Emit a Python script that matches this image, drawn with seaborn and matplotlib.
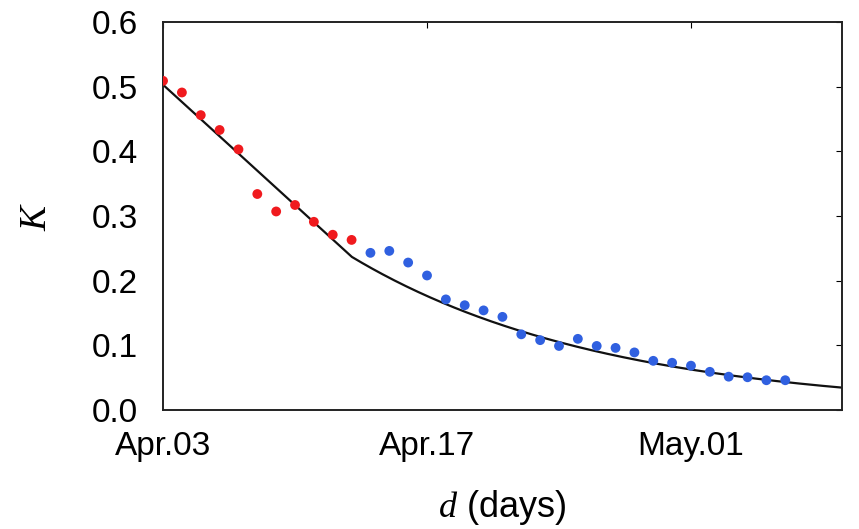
import numpy as np
import pandas as pd
import matplotlib
matplotlib.use("Agg")
import matplotlib.pyplot as plt
import seaborn as sns

# Daily K values, day 0 = Apr.03
days_early = [0, 1, 2, 3, 4, 5, 6, 7, 8, 9, 10]
k_early = [0.509, 0.491, 0.456, 0.433, 0.403, 0.334, 0.307, 0.317, 0.291, 0.271, 0.263]

days_late = [11, 12, 13, 14, 15, 16, 17, 18, 19, 20, 21, 22,
             23, 24, 25, 26, 27, 28, 29, 30, 31, 32, 33]
k_late = [0.243, 0.246, 0.228, 0.208, 0.171, 0.162, 0.154, 0.144, 0.117, 0.108,
          0.099, 0.110, 0.099, 0.096, 0.089, 0.076, 0.073, 0.0685, 0.059,
          0.0515, 0.0506, 0.046, 0.046]

# Model: linear decline up to the breakpoint, exponential decay afterwards
k_start = 0.503
slope = -0.0266
breakpoint_day = 10
decay_rate = 0.074

tick_days = [0, 14, 28]
tick_labels = ["Apr.03", "Apr.17", "May.01"]
k_ticks = [0.0, 0.1, 0.2, 0.3, 0.4, 0.5, 0.6]

sns.set_theme(style="white")
plt.rcParams["font.family"] = ["Liberation Sans", "DejaVu Sans"]
plt.rcParams["mathtext.fontset"] = "custom"
plt.rcParams["mathtext.it"] = "Liberation Serif:italic"
plt.rcParams["mathtext.rm"] = "Liberation Serif"
plt.rcParams["text.color"] = "black"
plt.rcParams["axes.labelcolor"] = "black"
plt.rcParams["xtick.color"] = "black"
plt.rcParams["ytick.color"] = "black"

fig = plt.figure(figsize=(8.59, 5.29), dpi=100)
ax = fig.add_axes([0.1898, 0.225, 0.7902, 0.7334])

df_early = pd.DataFrame({"day": days_early, "K": k_early})
df_late = pd.DataFrame({"day": days_late, "K": k_late})

sns.scatterplot(data=df_early, x="day", y="K", ax=ax, color="#f01a1e",
                s=50, edgecolor="none", zorder=3)
sns.scatterplot(data=df_late, x="day", y="K", ax=ax, color="#3060e0",
                s=50, edgecolor="none", zorder=3)

t = np.linspace(0, 36, 400)
k_break = k_start + slope * breakpoint_day
k_model = np.where(t <= breakpoint_day,
                   k_start + slope * t,
                   k_break * np.exp(-decay_rate * (t - breakpoint_day)))
sns.lineplot(x=t, y=k_model, ax=ax, color="#111111", linewidth=1.6,
             zorder=2, sort=False)

ax.set_xlim(0, 36)
ax.set_ylim(0, 0.6)
ax.set_xticks(tick_days)
ax.set_xticklabels(tick_labels)
ax.set_yticks(k_ticks)
ax.set_yticklabels([f"{v:.1f}" for v in k_ticks])
ax.tick_params(axis="both", labelsize=24, direction="in", length=4,
               width=0.8, top=True, right=True)
ax.tick_params(axis="y", pad=18)
ax.tick_params(axis="x", pad=15)

for sp in ax.spines.values():
    sp.set_visible(True)
    sp.set_color("#222222")
    sp.set_linewidth(1.4)

ax.set_xlabel(r"$d$ (days)", fontsize=26)
ax.set_ylabel(r"$K$", fontsize=27)
ax.xaxis.set_label_coords(0.5, -0.2)
ax.yaxis.set_label_coords(-0.160, 0.5)

fig.savefig("out.png", dpi=100, facecolor="white")
